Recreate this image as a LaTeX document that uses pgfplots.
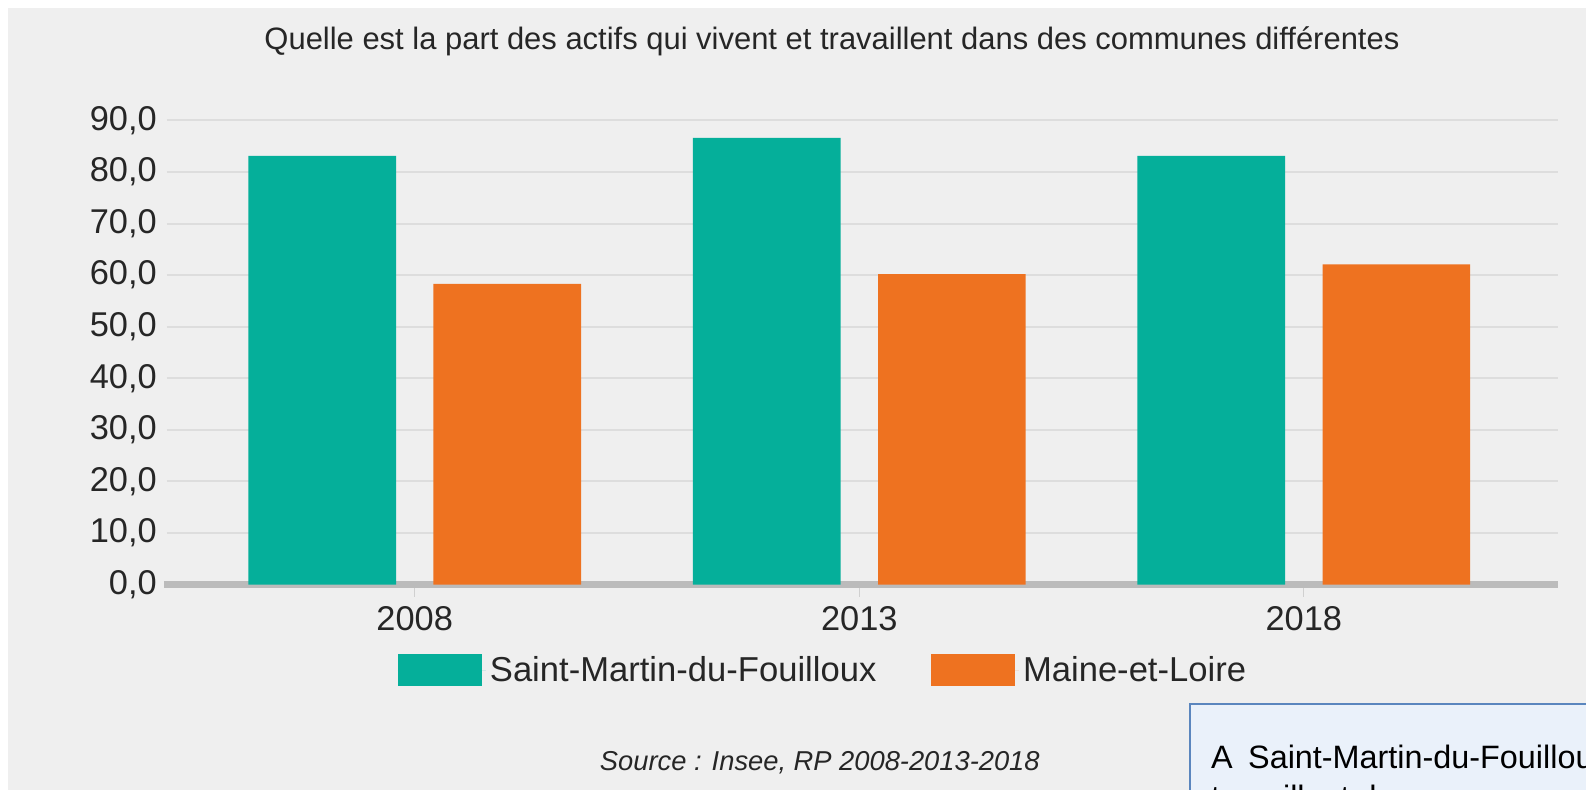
\documentclass[border=0pt]{standalone}
\usepackage{pgfplots}
\pgfplotsset{compat=1.18}
\usepackage{fontspec}
\setmainfont{Liberation Sans}
\definecolor{bggray}{HTML}{EFEFEF}
\definecolor{teal0}{HTML}{05AF9A}
\definecolor{orange0}{HTML}{EE7220}
\definecolor{gridc}{HTML}{DDDDDD}
\definecolor{axisc}{HTML}{BBBBBB}
\definecolor{tickc}{HTML}{D0D0D0}
\definecolor{txt}{HTML}{262626}
\definecolor{boxfill}{HTML}{EAF1FA}
\definecolor{boxline}{HTML}{5B86BE}
\begin{document}
\begin{tikzpicture}[x=1pt,y=1pt]
\fill[white] (0,0) rectangle (784,390.5);
\fill[bggray] (4,0) rectangle (784,386.5);
\node[anchor=base, font=\fontsize{15.3}{18}\selectfont, text=txt, inner sep=0pt] at (411.25,365.8)
  {Quelle est la part des actifs qui vivent et travaillent dans des communes différentes};
\begin{axis}[
  at={(82.5pt,101.5pt)}, anchor=south west,
  scale only axis, width=687.5pt, height=229.5pt,
  xmin=-0.5575, xmax=2.571, ymin=0, ymax=90,
  axis x line*=bottom, axis y line*=left,
  x axis line style={draw=axisc, line width=3.7pt, -, shorten <=-1.5pt},
  y axis line style={draw=none},
  xtick={0,1,2}, xticklabels={2008,2013,2018},
  ytick={0,10,...,90},
  tick align=outside, major tick length=6pt,
  xtick style={draw=tickc, line width=0.6pt},
  ytick style={draw=none},
  ymajorgrids, grid style={draw=gridc, line width=1pt},
  tick label style={font=\fontsize{17}{20}\selectfont, text=txt},
  xticklabel style={yshift=-1.5pt},
  yticklabel style={xshift=4.5pt},
  /pgf/number format/.cd, fixed, fixed zerofill, precision=1, use comma, assume math mode=true,
  /pgfplots/.cd,
  legend columns=2,
  legend style={at={(0.1658,-0.184)}, anchor=west, draw=none, fill=none,
    font=\fontsize{17.1}{20}\selectfont, text=txt, inner sep=0pt,
    /tikz/every even column/.append style={column sep=25pt}},
]
\addplot[ybar, bar width=73pt, bar shift=-45.75pt, fill=teal0, draw=none,
  legend image code/.code={\fill[teal0] (0pt,-7.75pt) rectangle (41.5pt,7.75pt); \path (0pt,0pt) -- (43.5pt,0pt);}]
  coordinates {(0,83.1) (1,86.6) (2,83.1)};
\addlegendentry{Saint-Martin-du-Fouilloux}
\addplot[ybar, bar width=73pt, bar shift=45.75pt, fill=orange0, draw=none,
  legend image code/.code={\fill[orange0] (0pt,-7.75pt) rectangle (41.5pt,7.75pt); \path (0pt,0pt) -- (43.5pt,0pt);}]
  coordinates {(0,58.3) (1,60.2) (2,62.1)};
\addlegendentry{Maine-et-Loire}
\end{axis}
\node[anchor=base, font=\fontsize{13.5}{16}\selectfont\itshape, text=txt, inner sep=0pt] at (405.25,9.75)
  {Source : Insee, RP 2008-2013-2018};
\begin{scope}
\clip (0,0) rectangle (784,390.5);
\filldraw[fill=boxfill, draw=boxline, line width=1pt] (588,-20) rectangle (800,42.5);
\node[anchor=base west, font=\fontsize{16}{19}\selectfont, text=black, inner sep=0pt] at (598.5,10.5)
  {A\hspace{0.2em} Saint-Martin-du-Fouilloux, 83,1~\% des actifs};
\node[anchor=base west, font=\fontsize{16}{19}\selectfont, text=black, inner sep=0pt] at (598.5,-9)
  {travaillent dans une commune autre que};
\end{scope}
\pgfresetboundingbox
\useasboundingbox (0,0) rectangle (784,390.5);
\end{tikzpicture}
\end{document}
